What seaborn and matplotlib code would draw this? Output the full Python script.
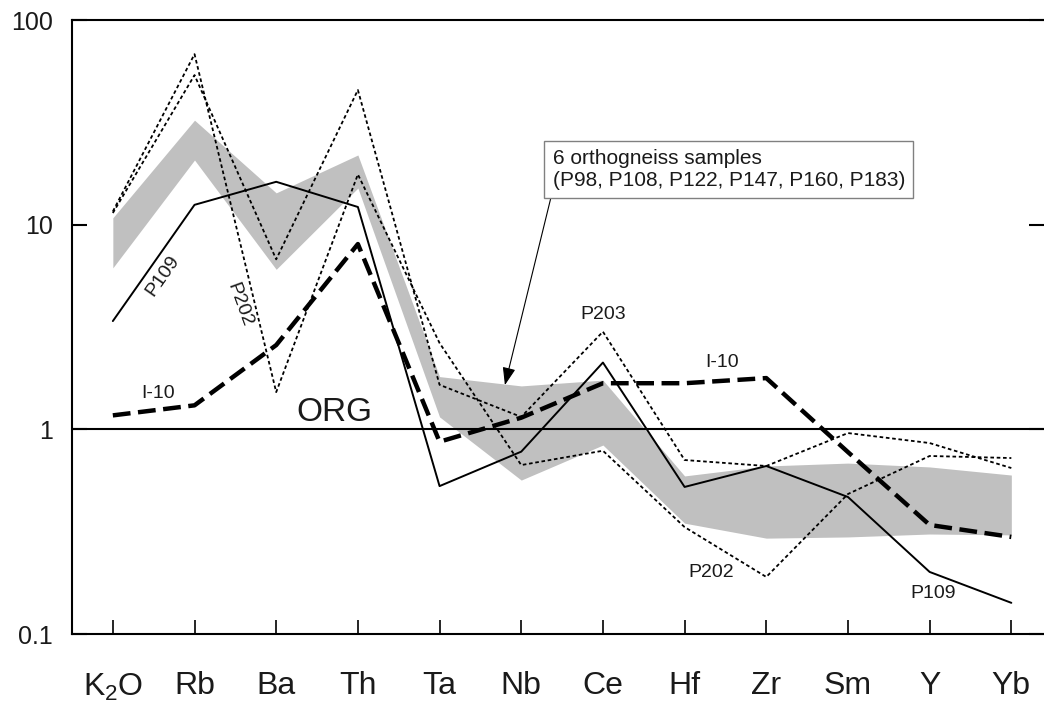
import numpy as np
import pandas as pd
import matplotlib
matplotlib.use("Agg")
import matplotlib.pyplot as plt
from matplotlib.ticker import NullLocator
import seaborn as sns

# ---------------- data ----------------
elements = ["K$\\mathregular{_2}$O", "Rb", "Ba", "Th", "Ta", "Nb", "Ce", "Hf", "Zr", "Sm", "Y", "Yb"]
band_upper = [10.8, 32.4, 14.3, 21.9, 1.81, 1.63, 1.74, 0.592, 0.662, 0.684, 0.655, 0.598]
band_lower = [6.15, 20.7, 6.05, 15.1, 1.15, 0.565, 0.838, 0.348, 0.294, 0.298, 0.308, 0.305]
p109 = [3.38, 12.5, 16.2, 12.2, 0.528, 0.778, 2.12, 0.523, 0.662, 0.467, 0.201, 0.142]
p202 = [11.6, 68.1, 1.52, 17.6, 2.64, 0.669, 0.786, 0.333, 0.19, 0.483, 0.741, 0.724]
p203 = [11.4, 53.8, 6.77, 45.5, 1.65, 1.15, 3.0, 0.708, 0.662, 0.959, 0.857, 0.647]
i10 = [1.17, 1.31, 2.58, 8.04, 0.87, 1.14, 1.68, 1.68, 1.78, 0.774, 0.341, 0.298]
ytick_vals = [0.1, 1, 10, 100]
ytick_labels = ["0.1", "1", "10", "100"]

sns.set_style("white")
plt.rcParams["font.family"] = ["Liberation Sans", "DejaVu Sans"]
plt.rcParams["mathtext.fontset"] = "custom"
plt.rcParams["mathtext.rm"] = "Liberation Sans"

fig = plt.figure(figsize=(10.44, 7.07), dpi=100)
ax = fig.add_axes([72 / 1044, 73 / 707, 972 / 1044, 614 / 707])

x = np.arange(len(elements))
df = pd.DataFrame({"x": x, "p109": p109, "p202": p202, "p203": p203, "i10": i10})

ax.set_yscale("log")
ax.fill_between(x, band_lower, band_upper, color="#c0c0c0", lw=0, zorder=1)
ax.axhline(1, color="black", lw=1.5, zorder=2)

sns.lineplot(data=df, x="x", y="p109", ax=ax, color="black", lw=1.4, zorder=3)
sns.lineplot(data=df, x="x", y="p202", ax=ax, color="black", lw=1.3,
             linestyle=(0, (2.0, 1.5)), zorder=3)
sns.lineplot(data=df, x="x", y="p203", ax=ax, color="black", lw=1.3,
             linestyle=(0, (2.0, 1.5)), zorder=3)
sns.lineplot(data=df, x="x", y="i10", ax=ax, color="black", lw=3.2,
             linestyle=(0, (4.0, 1.7)), zorder=4)

ax.set_xlim(-0.5, 11.4)
ax.set_ylim(0.1, 100)
ax.set_xlabel("")
ax.set_ylabel("")

ax.set_xticks(x)
ax.set_xticklabels(elements, fontsize=23)
ax.set_yticks(ytick_vals)
ax.set_yticklabels(ytick_labels, fontsize=18)
ax.yaxis.set_minor_locator(NullLocator())
ax.xaxis.set_minor_locator(NullLocator())
ax.tick_params(axis="x", direction="in", length=10, width=1.2, pad=27,
               bottom=True, top=False, colors="black")
ax.tick_params(axis="y", which="major", direction="in", length=11, width=1.5,
               left=True, right=True, pad=14, colors="black")
ax.tick_params(axis="x", labelcolor="#1a1a1a")
ax.tick_params(axis="y", labelcolor="#1a1a1a")

for side in ["left", "top", "bottom"]:
    ax.spines[side].set_visible(True)
    ax.spines[side].set_color("black")
    ax.spines[side].set_linewidth(1.5)
ax.spines["right"].set_visible(False)

# ---------------- labels ----------------
lab = dict(fontsize=14, color="#1a1a1a", ha="center", va="center", zorder=6)
ax.text(0.612, 5.6, "P109", rotation=55, **lab)
ax.text(1.554, 4.05, "P202", rotation=-70, **lab)
ax.text(6.0, 3.66, "P203", **lab)
ax.text(7.454, 2.11, "I-10", **lab)
ax.text(0.551, 1.50, "I-10", **lab)
ax.text(7.32, 0.199, "P202", **lab)
ax.text(10.04, 0.158, "P109", **lab)
ax.text(2.717, 1.21, "ORG", fontsize=24, color="#1a1a1a", ha="center", va="center", zorder=6)

ax.annotate("6 orthogneiss samples\n(P98, P108, P122, P147, P160, P183)",
            xy=(4.80, 1.645), xytext=(5.386, 18.6),
            ha="left", va="center", fontsize=15, color="#1a1a1a", zorder=7,
            bbox=dict(boxstyle="square,pad=0.4", fc="white", ec="#808080", lw=1),
            arrowprops=dict(arrowstyle="-|>,head_length=0.6,head_width=0.22",
                            color="black", lw=0.8, relpos=(0, 0),
                            shrinkA=0, shrinkB=0, mutation_scale=18))

fig.savefig("out.png", dpi=100, facecolor="white")
